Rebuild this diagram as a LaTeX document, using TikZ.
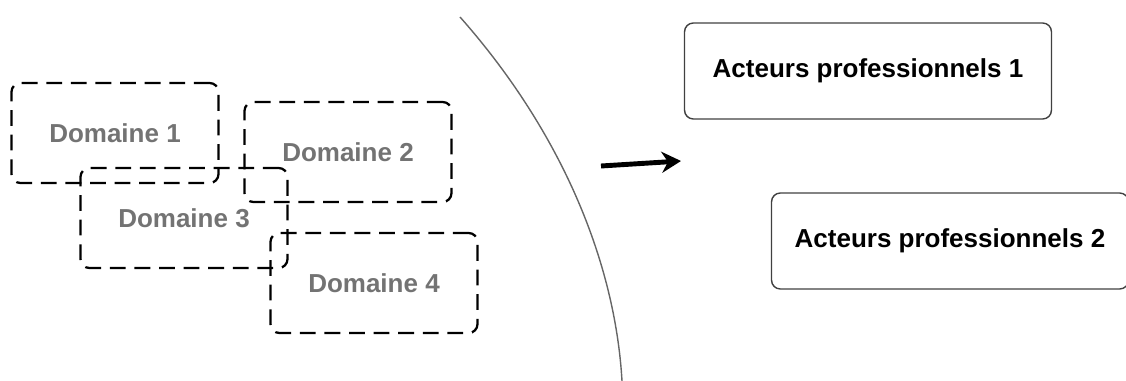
\documentclass[tikz,border=0pt]{standalone}
\usepackage{fontspec}
\setmainfont{Liberation Sans}
\usetikzlibrary{positioning,arrows.meta}
\tikzset{
  % Specifications for style of nodes:
  base/.style = {
    rectangle,
    rounded corners=5pt,
    text centered,
    font=\fontsize{14.8}{16}\selectfont\bfseries
  },
  domaine/.style = {
    base,
    draw=black,
    dash pattern=on 9pt off 5pt,
    line width=1.3pt,
    text=black!55,
    minimum width=4.14cm,
    minimum height=2cm
  },
  acteur/.style = {
    base,
    draw=black!75,
    line width=0.8pt,
    minimum width=7.34cm,
    minimum height=1.92cm
  },
}

\begin{document}
\begin{tikzpicture}[x=0.02cm, y=-0.02cm]
    \useasboundingbox (0,0) rectangle (1126,381);
    % Domaines
    \node[domaine] (dom1) at (115,133) {Domaine 1};
    \node[domaine] (dom2) at (348,152) {Domaine 2};
    \node[domaine] (dom3) at (184,218) {Domaine 3};
    \node[domaine] (dom4) at (374,283) {Domaine 4};
    % Acteurs
    \node[acteur] (act1) at (868,71) {Acteurs professionnels 1};
    \node[acteur, minimum width=7.14cm] (act2) at (950,241) {Acteurs professionnels 2};
    % Separation and arrow
    \coordinate (sepA) at (460,17);
    \coordinate (sepB) at (622,381);
    \draw[black!60, line width=0.8pt] (sepA) .. controls (560,130) and (615,260) .. (sepB);
    \coordinate (flecheA) at (601,166);
    \coordinate (flecheB) at (681,161);
    \draw[-{Stealth[length=11pt,width=12pt]}, line width=2.8pt] (flecheA) -- (flecheB);
\end{tikzpicture}
\end{document}
